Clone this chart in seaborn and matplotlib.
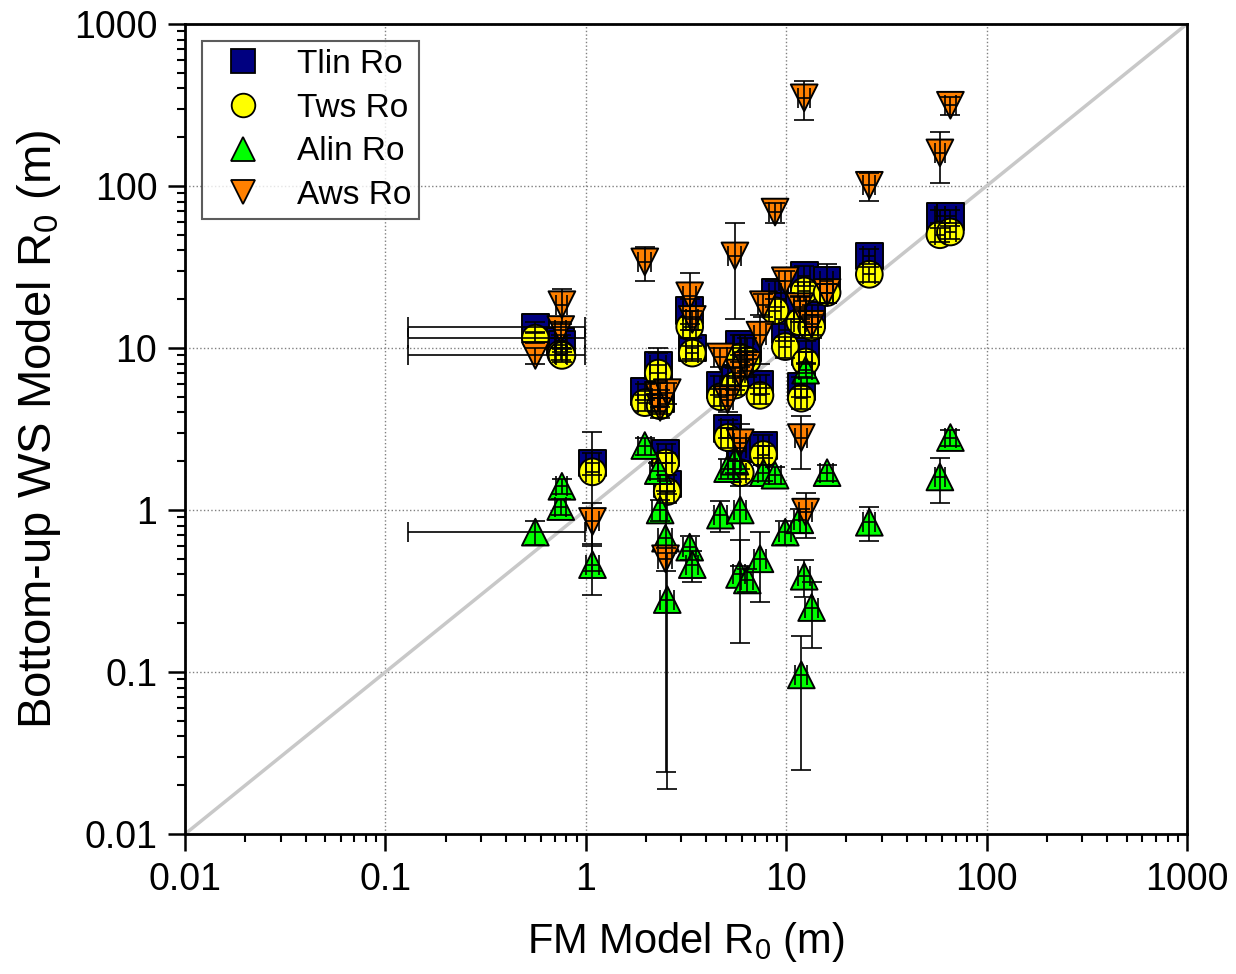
import matplotlib
matplotlib.use("Agg")
import matplotlib.pyplot as plt
from matplotlib.lines import Line2D
from matplotlib.ticker import LogLocator, FuncFormatter, NullFormatter
import numpy as np
import pandas as pd
import seaborn as sns

# FM model R0 per site (x) and its error
fm_r0 = [0.56, 0.75, 0.76, 1.08, 1.97, 2.3, 2.35, 2.5, 2.55, 3.3,
         3.4, 4.7, 5.1, 5.55, 5.85, 6.4, 5.9, 7.4, 7.7, 8.8,
         9.9, 11.7, 11.9, 12.3, 12.5, 13.4, 16.0, 26.0, 58.5, 66.0]
fm_err = [0.43, 0.05, 0.05, 0.08, 0.15, 0.2, 0.2, 0.2, 0.2, 0.25,
          0.25, 0.35, 0.35, 0.4, 0.4, 0.45, 0.4, 0.5, 0.5, 0.6,
          0.7, 0.8, 0.8, 0.9, 0.9, 1.0, 1.2, 1.8, 3.5, 4.0]

# bottom-up WS model R0 for each series, with errors
tlin_r0 = [13.5, 11.0, 10.5, 1.95, 5.4, 7.8, 4.9, 2.25, 1.45, 17.0,
           10.0, 5.9, 3.2, 6.5, 10.5, 10.0, 2.4, 6.0, 2.5, 22.0,
           13.0, 17.5, 5.8, 28.0, 9.5, 16.0, 26.0, 37.0, 65.0, 65.0]
tlin_err = [1.0, 1.0, 1.0, 0.3, 0.6, 1.5, 0.6, 0.3, 0.2, 3.0,
            1.5, 0.8, 0.4, 1.0, 1.5, 1.5, 0.4, 0.8, 0.4, 4.0,
            2.0, 3.0, 0.8, 4.0, 1.5, 2.5, 7.0, 4.0, 6.0, 6.0]

tws_r0 = [11.5, 9.2, 9.0, 1.72, 4.6, 7.0, 4.4, 1.95, 1.3, 13.5,
          9.3, 5.0, 2.8, 5.9, 8.8, 8.4, 1.7, 5.1, 2.2, 17.0,
          10.2, 14.5, 4.9, 22.5, 8.2, 13.5, 22.0, 28.5, 50.0, 52.0]
tws_err = [0.8, 0.8, 0.8, 1.3, 0.5, 3.0, 0.5, 0.3, 0.2, 2.0,
           1.0, 0.6, 0.4, 0.8, 1.2, 1.2, 0.3, 0.6, 0.3, 3.0,
           1.5, 2.5, 0.7, 3.0, 1.2, 2.0, 3.0, 3.0, 5.0, 5.0]

alin_r0 = [0.73, 1.05, 1.4, 0.46, 2.5, 1.75, 1.0, 0.67, 0.28, 0.59,
           0.46, 0.93, 1.8, 2.0, 0.40, 0.37, 1.0, 0.5, 1.7, 1.64,
           0.73, 0.87, 0.096, 0.39, 7.3, 0.25, 1.7, 0.84, 1.6, 2.8]
alin_err = [0.12, 0.12, 0.15, 0.16, 0.3, 0.2, 0.15, 0.646, 0.261, 0.1,
            0.1, 0.2, 0.25, 0.3, 0.25, 0.06, 0.55, 0.23, 0.2, 0.2,
            0.12, 0.15, 0.071, 0.1, 0.8, 0.11, 0.2, 0.2, 0.5, 0.3]

aws_r0 = [9.0, 13.0, 18.5, 0.85, 34.0, 5.1, 4.3, 0.5, 5.3, 21.0,
          15.0, 8.8, 4.8, 37.0, 7.0, 7.8, 2.6, 12.0, 18.5, 69.0,
          26.0, 18.0, 2.8, 350.0, 0.97, 14.0, 22.0, 101.0, 160.0, 315.0]
aws_err = [1.0, 1.5, 4.5, 0.25, 8.0, 1.0, 0.6, 0.08, 0.8, 8.0,
           2.0, 1.2, 0.8, 22.0, 1.2, 1.2, 0.8, 4.0, 3.0, 10.0,
           4.0, 3.0, 1.0, 95.0, 0.3, 2.0, 3.0, 20.0, 55.0, 40.0]

series_names = ["Tlin Ro", "Tws Ro", "Alin Ro", "Aws Ro"]
series_colors = ["#000080", "#FFFF00", "#00FF00", "#FF8000"]
series_markers = ["s", "o", "^", "v"]

y_values = [tlin_r0, tws_r0, alin_r0, aws_r0]
y_errors = [tlin_err, tws_err, alin_err, aws_err]

frames = []
for name, ys, es in zip(series_names, y_values, y_errors):
    frames.append(pd.DataFrame({"x": fm_r0, "xerr": fm_err, "y": ys,
                                "yerr": es, "series": name}))
df = pd.concat(frames, ignore_index=True)

sns.set_style("ticks")
plt.rcParams["font.family"] = ["Liberation Sans", "DejaVu Sans"]
plt.rcParams["mathtext.fontset"] = "custom"
plt.rcParams["mathtext.rm"] = "Liberation Sans"
plt.rcParams["mathtext.it"] = "Liberation Sans"
for key in ["text.color", "axes.labelcolor", "xtick.color", "ytick.color"]:
    plt.rcParams[key] = "black"

fig = plt.figure(figsize=(12.36, 9.74), dpi=100)
ax = fig.add_axes([0.1497, 0.1437, 0.8106, 0.8317])

ax.set_xscale("log")
ax.set_yscale("log")

# 1:1 line
ax.plot([0.01, 1000], [0.01, 1000], color="#c8c8c8", lw=2.5, zorder=1.5)

sns.scatterplot(data=df, x="x", y="y", hue="series", style="series",
                palette=dict(zip(series_names, series_colors)),
                markers=dict(zip(series_names, series_markers)),
                s=370, edgecolor="black", linewidth=1.4, legend=False,
                ax=ax, zorder=3)

ax.errorbar(df["x"], df["y"], xerr=df["xerr"], yerr=df["yerr"], fmt="none",
            ecolor="black", elinewidth=1.2, capsize=7, capthick=1.2, zorder=4)

ax.set_xlim(0.01, 1000)
ax.set_ylim(0.01, 1000)

fmt = FuncFormatter(lambda v, p: f"{v:g}")
for axis in (ax.xaxis, ax.yaxis):
    axis.set_major_locator(LogLocator(base=10, numticks=10))
    axis.set_minor_locator(LogLocator(base=10, subs=np.arange(2, 10), numticks=20))
    axis.set_major_formatter(fmt)
    axis.set_minor_formatter(NullFormatter())

ax.tick_params(which="major", direction="out", length=12, width=1.8,
               labelsize=27, pad=8)
ax.tick_params(which="minor", direction="out", length=6, width=1.5)
ax.tick_params(top=False, right=False, which="both")

for sp in ax.spines.values():
    sp.set_linewidth(2)
    sp.set_color("black")

ax.grid(which="major", linestyle=":", color="#808080", linewidth=1.0)
ax.set_axisbelow(True)

ax.set_xlabel("FM Model R$_0$ (m)", fontsize=30, labelpad=16)
ax.set_ylabel("Bottom-up WS Model R$_0$ (m)", fontsize=34, labelpad=8)

handles = [Line2D([], [], linestyle="none", marker=m, markersize=17,
                  markerfacecolor=c, markeredgecolor="black",
                  markeredgewidth=1.3, label=n)
           for n, c, m in zip(series_names, series_colors, series_markers)]
leg = ax.legend(handles=handles, loc="upper left", fontsize=24,
                frameon=True, fancybox=False, edgecolor="#333333",
                borderpad=0.25, labelspacing=0.38, handletextpad=0.6,
                borderaxespad=0.5)
leg.get_frame().set_linewidth(1.5)

fig.savefig("out.png", dpi=100)
